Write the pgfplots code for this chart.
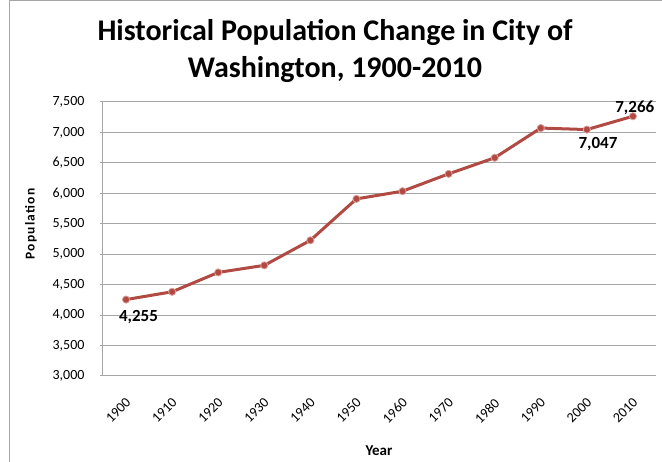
\documentclass[border=0pt]{standalone}
\usepackage{pgfplots}
\pgfplotsset{compat=1.18}
\usepackage{fontspec}
\setmainfont{Carlito}
\definecolor{linered}{HTML}{B04A42}
\definecolor{markedge}{HTML}{D9A09A}
\definecolor{gridgray}{HTML}{A6A6A6}
\begin{document}
\begin{tikzpicture}
\useasboundingbox (0pt,0pt) rectangle (662pt,462pt);
\fill[white] (0pt,0pt) rectangle (662pt,462pt);
\draw[gray!70, line width=1pt] (9pt,0pt) -- (9pt,461pt) -- (662pt,461pt);
\node[font=\bfseries\fontsize{30}{36}\selectfont, align=center] at (335pt,411pt) {Historical Population Change in City of\\[1pt]Washington, 1900-2010};
\node[font=\bfseries\fontsize{13.5}{17}\selectfont\addfontfeatures{LetterSpace=9}, rotate=90] at (31pt,238pt) {Population};
\node[font=\bfseries\fontsize{15}{18}\selectfont] at (379pt,11pt) {Year};
\begin{axis}[
  at={(103pt,86pt)}, anchor=south west,
  width=553pt, height=274pt, scale only axis,
  xmin=-0.5, xmax=11.5, ymin=3000, ymax=7500,
  xtick={0,...,11},
  xticklabels={1900,1910,1920,1930,1940,1950,1960,1970,1980,1990,2000,2010},
  ytick={3000,3500,...,7500},
  ymajorgrids, grid style={gridgray, line width=1pt},
  axis x line*=bottom, axis y line*=left,
  axis line style={gridgray, line width=1pt},
  x axis line style={draw=none},
  xtick style={draw=none},
  ytick style={gridgray, line width=1pt},
  major tick length=3pt, tick align=outside,
  tick label style={font=\fontsize{14}{16}\selectfont},
  /pgf/number format/assume math mode=true,
  /pgf/number format/.cd, 1000 sep={,}, fixed, /pgfplots/.cd,
  yticklabel style={anchor=east, xshift=-12pt},
  xticklabel style={xshift=-1pt, yshift=-18pt, rotate=45, anchor=north east, inner sep=0pt},
  clip=false,
]
\addplot[linered, line width=3pt, mark=*, mark size=3.6pt,
  mark options={fill=linered, draw=markedge, line width=0.8pt}]
  coordinates {(0,4255) (1,4383) (2,4701) (3,4817) (4,5228) (5,5909) (6,6035) (7,6320) (8,6584) (9,7072) (10,7047) (11,7266)};
\node[font=\bfseries\fontsize{17}{20}\selectfont] at (axis cs:0.27,3960) {4,255};
\node[font=\bfseries\fontsize{17}{20}\selectfont] at (axis cs:10.24,6810) {7,047};
\node[font=\bfseries\fontsize{17}{20}\selectfont] at (axis cs:11.04,7400) {7,266};
\end{axis}
\end{tikzpicture}
\end{document}
